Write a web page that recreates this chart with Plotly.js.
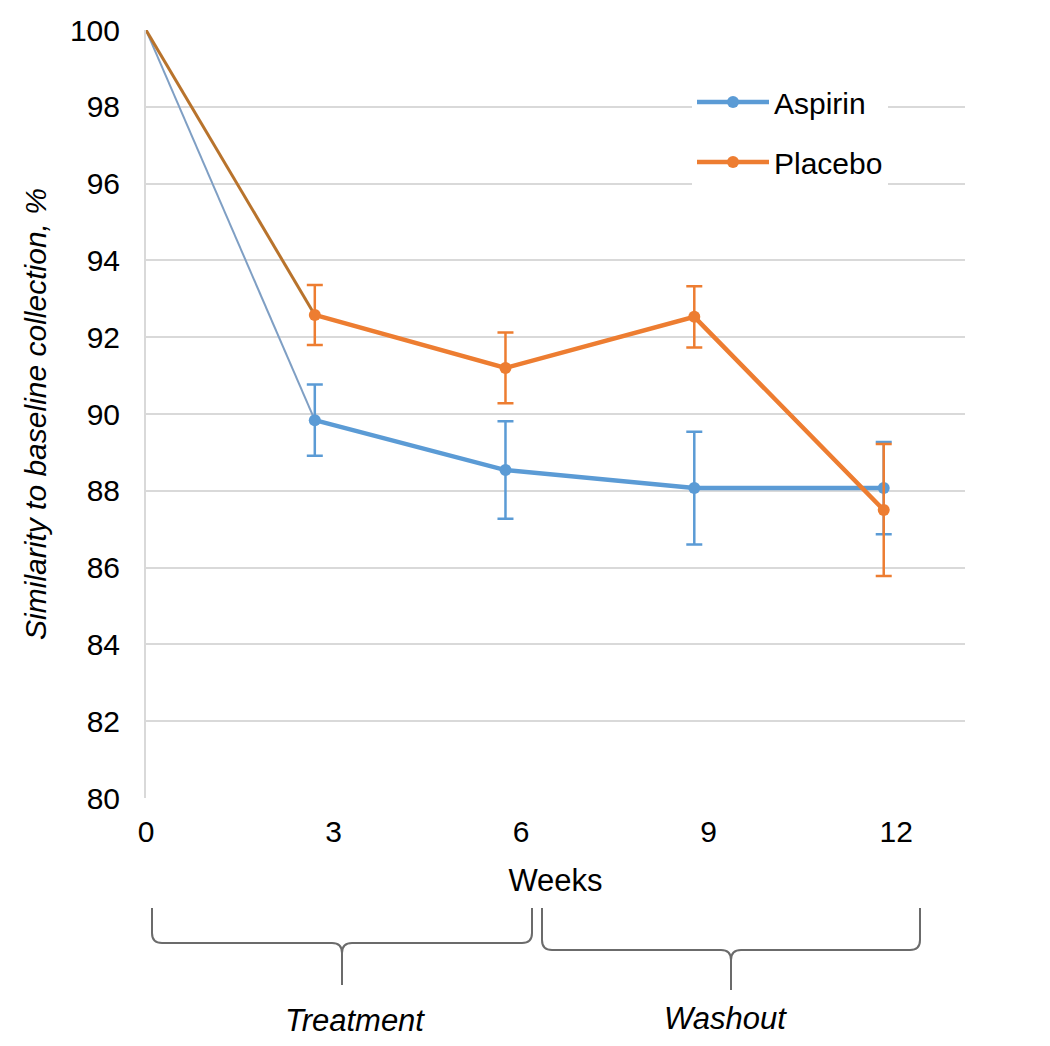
<!DOCTYPE html>
<html>
<head>
<meta charset="utf-8">
<script src="https://cdn.plot.ly/plotly-3.0.1.min.js"></script>
<style>html,body{margin:0;padding:0;background:#fff;}#chart{width:1050px;height:1046px;}</style>
</head>
<body>
<div id="chart"></div>
<script>
// ---- Data ----
const weeks = [0, 2.7, 5.75, 8.77, 11.8];
const aspirin = [100, 89.84, 88.54, 88.07, 88.07];
const aspirinErr = [0, 0.93, 1.27, 1.47, 1.2];
const placebo = [100, 92.58, 91.2, 92.53, 87.5];
const placeboErr = [0, 0.78, 0.92, 0.8, 1.72];
const xTickVals = [0, 3, 6, 9, 12];
const yTickVals = [80, 82, 84, 86, 88, 90, 92, 94, 96, 98, 100];
const seriesNames = ['Aspirin', 'Placebo'];
const phaseLabels = ['Treatment', 'Washout'];

// ---- Layout geometry (pixels) ----
const W = 1050, H = 1046;
const L = 146, R = 965, T = 30, B = 798;
const px = x => (x - L) / (R - L);
const py = y => (B - y) / (B - T);

const FONT = '"Liberation Sans", Arial, Helvetica, sans-serif';
const FS = 30;
const blue = '#5b9bd5', orange = '#ed7d31';
const blueThin = '#7f9fc4', orangeThin = '#b8732c';

const traces = [
  { x: weeks.slice(0, 2), y: aspirin.slice(0, 2), mode: 'lines', showlegend: false, hoverinfo: 'skip',
    line: { color: blueThin, width: 2 } },
  { x: weeks.slice(0, 2), y: placebo.slice(0, 2), mode: 'lines', showlegend: false, hoverinfo: 'skip',
    line: { color: orangeThin, width: 3 } },
  { x: weeks.slice(1), y: aspirin.slice(1), name: seriesNames[0], legendgroup: 'a', mode: 'lines+markers',
    line: { color: blue, width: 4.5 }, marker: { color: blue, size: 12 },
    error_y: { type: 'data', array: aspirinErr.slice(1), visible: true, color: blue, thickness: 2.5, width: 8 } },
  { x: weeks.slice(1), y: placebo.slice(1), name: seriesNames[1], legendgroup: 'b', mode: 'lines+markers',
    line: { color: orange, width: 4.5 }, marker: { color: orange, size: 12 },
    error_y: { type: 'data', array: placeboErr.slice(1), visible: true, color: orange, thickness: 2.5, width: 8 } }
];

// Braces under the axis (pixel geometry converted to paper coords)
function bracePath(x0, x1, yTop, yBar, yTip, r) {
  const xm = (x0 + x1) / 2;
  const P = (x, y) => px(x).toFixed(5) + ',' + py(y).toFixed(5);
  return 'M' + P(x0, yTop) + ' L' + P(x0, yBar - r) + ' Q' + P(x0, yBar) + ' ' + P(x0 + r, yBar) +
    ' L' + P(xm - r, yBar) + ' Q' + P(xm, yBar) + ' ' + P(xm, yBar + r) + ' L' + P(xm, yTip) +
    ' M' + P(xm, yBar + r) + ' Q' + P(xm, yBar) + ' ' + P(xm + r, yBar) +
    ' L' + P(x1 - r, yBar) + ' Q' + P(x1, yBar) + ' ' + P(x1, yBar - r) + ' L' + P(x1, yTop);
}

const shapes = [
  { type: 'path', xref: 'paper', yref: 'paper', path: bracePath(152, 532, 908, 943, 985, 10),
    line: { color: '#6b6b6b', width: 2 } },
  { type: 'path', xref: 'paper', yref: 'paper', path: bracePath(542, 920, 908, 950, 990, 10),
    line: { color: '#6b6b6b', width: 2 } }
];

const annotations = [
  { xref: 'paper', yref: 'paper', x: px(355), y: py(1020), text: '<i>' + phaseLabels[0] + '</i>', showarrow: false,
    font: { family: FONT, size: 31, color: '#000' }, xanchor: 'center', yanchor: 'middle' },
  { xref: 'paper', yref: 'paper', x: px(725), y: py(1018), text: '<i>' + phaseLabels[1] + '</i>', showarrow: false,
    font: { family: FONT, size: 31, color: '#000' }, xanchor: 'center', yanchor: 'middle' }
];

const layout = {
  width: W, height: H,
  margin: { l: L, r: W - R, t: T, b: H - B, pad: 0 },
  paper_bgcolor: '#fff', plot_bgcolor: '#fff',
  font: { family: FONT, size: FS, color: '#000' },
  showlegend: true,
  legend: { x: px(692), y: py(76), xanchor: 'left', yanchor: 'top', bgcolor: '#fff', borderwidth: 0,
    font: { family: FONT, size: FS, color: '#000' }, itemwidth: 72, tracegroupgap: 18, traceorder: 'grouped',
    entrywidth: 170, entrywidthmode: 'pixels' },
  xaxis: {
    range: [0, 13.1], tickvals: xTickVals, ticktext: xTickVals.map(String),
    showgrid: false, zeroline: false, showline: false,
    ticks: 'outside', ticklen: 7, tickcolor: 'rgba(0,0,0,0)',
    tickfont: { family: FONT, size: FS, color: '#000' },
    title: { text: 'Weeks', font: { family: FONT, size: 31, color: '#000' }, standoff: 22 },
    automargin: false, fixedrange: true
  },
  yaxis: {
    range: [80, 100], tickvals: yTickVals, ticktext: yTickVals.map(String),
    showgrid: true, gridcolor: '#d9d9d9', gridwidth: 2,
    zeroline: false, showline: true, linecolor: '#d9d9d9', linewidth: 2,
    ticks: 'outside', ticklen: 18, tickcolor: 'rgba(0,0,0,0)',
    tickfont: { family: FONT, size: FS, color: '#000' },
    title: { text: '<i>Similarity to baseline collection, %</i>', font: { family: FONT, size: 30, color: '#000' }, standoff: 14 },
    automargin: false, fixedrange: true
  },
  shapes: shapes,
  annotations: annotations
};

Plotly.newPlot('chart', traces, layout, { displayModeBar: false, staticPlot: true });
</script>
</body>
</html>
